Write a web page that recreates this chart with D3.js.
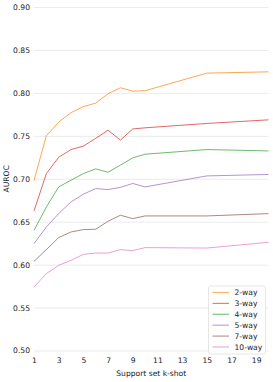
<!DOCTYPE html>
<html>
<head>
<meta charset="utf-8">
<script src="https://cdn.jsdelivr.net/npm/d3@7"></script>
<style>
  body { margin: 0; background: #fff; }
  text { font-family: "DejaVu Sans", sans-serif; fill: #222; }
</style>
</head>
<body>
<script>
// support set sizes (k-shot)
var shots = [1, 2, 3, 4, 5, 6, 7, 8, 9, 10, 15, 20];

var seriesNames = ["2-way", "3-way", "4-way", "5-way", "7-way", "10-way"];
var seriesColors = ["#ff7f0e", "#d62728", "#2ca02c", "#9467bd", "#8c564b", "#e377c2"];

var way2 = [0.698, 0.750, 0.766, 0.777, 0.784, 0.788, 0.799, 0.806, 0.802, 0.8025, 0.823, 0.8245];
var way3 = [0.6625, 0.706, 0.725, 0.734, 0.738, 0.747, 0.7566, 0.745, 0.758, 0.7593, 0.7644, 0.7686];
var way4 = [0.640, 0.667, 0.6905, 0.6983, 0.706, 0.7115, 0.7076, 0.7158, 0.7243, 0.7286, 0.734, 0.7324];
var way5 = [0.6245, 0.6438, 0.6594, 0.673, 0.682, 0.6886, 0.6874, 0.690, 0.6945, 0.6905, 0.7033, 0.705];
var way7 = [0.6038, 0.6175, 0.6315, 0.638, 0.6408, 0.6412, 0.6505, 0.6575, 0.6536, 0.6567, 0.6567, 0.6594];
var way10 = [0.5739, 0.5895, 0.5992, 0.605, 0.612, 0.6135, 0.6135, 0.6175, 0.6163, 0.6198, 0.6193, 0.626];

var allSeries = [way2, way3, way4, way5, way7, way10];

var xTicks = [1, 3, 5, 7, 9, 11, 13, 15, 17, 19];
var yTicks = [0.50, 0.55, 0.60, 0.65, 0.70, 0.75, 0.80, 0.85, 0.90];

var W = 273, H = 382;
var margin = {top: 7, right: 4.5, bottom: 31.5, left: 34};
var width = W - margin.left - margin.right,
    height = H - margin.top - margin.bottom;

var svg = d3.select("body")
  .append("svg")
  .attr("width", W)
  .attr("height", H);

var g = svg.append("g")
  .attr("transform", "translate(" + margin.left + "," + margin.top + ")");

var xscale = d3.scaleLinear().domain([1, 20]).range([0, width]);
var yscale = d3.scaleLinear().domain([0.50, 0.90]).range([height, 0]);

// horizontal grid
var yAxis = d3.axisLeft(yscale)
  .tickValues(yTicks)
  .tickSize(-width)
  .tickPadding(4)
  .tickFormat(d3.format(".2f"));

var gy = g.append("g").call(yAxis);
gy.select(".domain").remove();
gy.selectAll("line").attr("stroke", "#ebebeb").attr("stroke-width", 1);
gy.selectAll("text").style("font-size", "7.6px").attr("fill", "#222");

var xAxis = d3.axisBottom(xscale)
  .tickValues(xTicks)
  .tickSize(0)
  .tickPadding(7);

var gx = g.append("g")
  .attr("transform", "translate(0," + height + ")")
  .call(xAxis);
gx.select(".domain").remove();
gx.selectAll("text").style("font-size", "7.6px").attr("fill", "#222");

// lines
var line = d3.line()
  .x(function(d, i) { return xscale(shots[i]); })
  .y(function(d) { return yscale(d); });

allSeries.forEach(function(s, i) {
  g.append("path")
    .datum(s)
    .attr("fill", "none")
    .attr("stroke", seriesColors[i])
    .attr("stroke-opacity", 0.7)
    .attr("stroke-width", 1)
    .attr("d", line);
});

// axis labels
svg.append("text")
  .attr("transform", "translate(8.5," + (margin.top + height / 2) + ") rotate(-90)")
  .attr("text-anchor", "middle")
  .style("font-size", "7.6px")
  .text("AUROC");

svg.append("text")
  .attr("x", margin.left + width / 2)
  .attr("y", H - 6)
  .attr("text-anchor", "middle")
  .style("font-size", "7.6px")
  .text("Support set k-shot");

// legend
var legend = svg.append("g")
  .attr("transform", "translate(208.5,286)");

legend.append("rect")
  .attr("width", 57)
  .attr("height", 68)
  .attr("rx", 2)
  .attr("fill", "#fff")
  .attr("fill-opacity", 0.8)
  .attr("stroke", "#e0e0e0")
  .attr("stroke-width", 0.8);

seriesNames.forEach(function(name, i) {
  var y = 6.5 + i * 10.9;
  legend.append("line")
    .attr("x1", 4).attr("x2", 20.5)
    .attr("y1", y).attr("y2", y)
    .attr("stroke", seriesColors[i])
    .attr("stroke-opacity", 0.6)
    .attr("stroke-width", 1.2);
  legend.append("text")
    .attr("x", 26)
    .attr("y", y + 2.8)
    .style("font-size", "7.6px")
    .text(name);
});
</script>
</body>
</html>
